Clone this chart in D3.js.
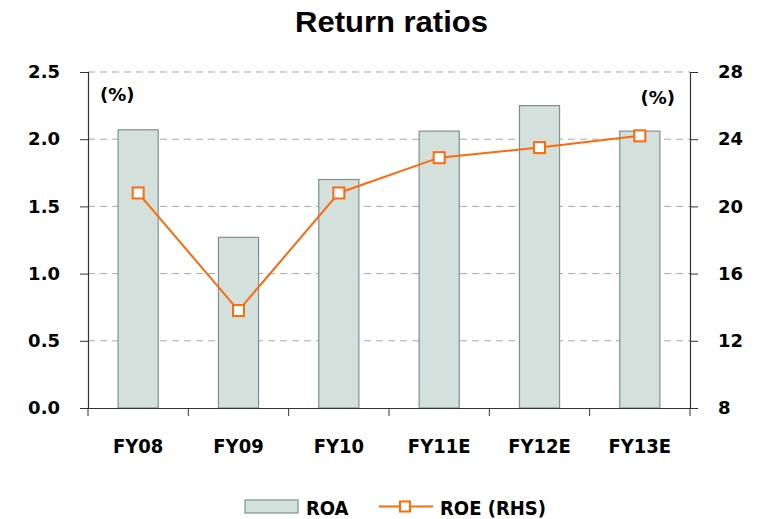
<!DOCTYPE html>
<html>
<head>
<meta charset="utf-8">
<script src="https://cdn.jsdelivr.net/npm/d3@7"></script>
<style>
  body { margin: 0; background: #fff; }
  text { font-family: "DejaVu Sans", sans-serif; font-weight: bold; fill: #000; }
  .cond { font-family: "DejaVu Sans Condensed", "DejaVu Sans", sans-serif; font-stretch: condensed; }
</style>
</head>
<body>
<div id="chart"></div>
<script>
// data
const years = ["FY08", "FY09", "FY10", "FY11E", "FY12E", "FY13E"]
const roa = [2.07, 1.27, 1.70, 2.06, 2.25, 2.06]
const roe = [20.8, 13.8, 20.8, 22.9, 23.5, 24.2]
const leftTicks = [0, 0.5, 1.0, 1.5, 2.0, 2.5]
const rightTicks = [8, 12, 16, 20, 24, 28]

const W = 762, H = 519
const margin = { top: 72, right: 72, bottom: 111, left: 88 }
const width = W - margin.left - margin.right
const height = H - margin.top - margin.bottom

const orange = "#fb6a0c"
const barFill = "#d3e0db"
const barStroke = "#7f8f92"

const svg = d3.select("#chart").append("svg")
    .attr("width", W)
    .attr("height", H)

const g = svg.append("g")
    .attr("transform", "translate(" + margin.left + "," + margin.top + ")")

// scales
const x = d3.scaleBand().domain(years).range([0, width]).paddingInner(0.6).paddingOuter(0.3)
const xc = d3.scaleBand().domain(years).range([0, width])
const yL = d3.scaleLinear().domain([0, 2.5]).range([height, 0])
const yR = d3.scaleLinear().domain([8, 28]).range([height, 0])

// gridlines
g.append("g")
    .selectAll("line")
    .data(leftTicks.slice(1))
    .join("line")
    .attr("x1", 0).attr("x2", width)
    .attr("y1", d => yL(d)).attr("y2", d => yL(d))
    .attr("stroke", "#a8a8a8")
    .attr("stroke-width", 1)
    .attr("stroke-dasharray", "7,5")

// bars
g.append("g")
    .selectAll("rect")
    .data(roa)
    .join("rect")
    .attr("x", (d, i) => x(years[i]))
    .attr("y", d => yL(d))
    .attr("width", x.bandwidth())
    .attr("height", d => height - yL(d))
    .attr("fill", barFill)
    .attr("stroke", barStroke)
    .attr("stroke-width", 1.2)

// left axis
const axL = g.append("g")
    .call(d3.axisLeft(yL).tickValues(leftTicks).tickFormat(d3.format(".1f")).tickSize(8).tickPadding(20))
axL.selectAll("text").style("font-size", "18px").attr("font-family", null)

// right axis
const axR = g.append("g")
    .attr("transform", "translate(" + width + ",0)")
    .call(d3.axisRight(yR).tickValues(rightTicks).tickSize(8).tickPadding(20))
axR.selectAll("text").style("font-size", "18px")

// x axis
const axX = g.append("g")
    .attr("transform", "translate(0," + height + ")")
    .call(d3.axisBottom(xc).tickSize(0).tickPadding(31))
axX.selectAll("text").attr("class", "cond").style("font-size", "20px")
axX.append("g")
    .selectAll("line")
    .data(d3.range(years.length + 1))
    .join("line")
    .attr("x1", i => i * xc.step()).attr("x2", i => i * xc.step())
    .attr("y1", 0).attr("y2", 8)
    .attr("stroke", "#333")

g.selectAll(".domain").attr("stroke", "#333").attr("stroke-width", 1.2)
g.selectAll(".tick line").attr("stroke", "#333")
svg.selectAll(".tick text").attr("font-family", null).attr("font-size", null)

// ROE line
const line = d3.line()
    .x((d, i) => xc(years[i]) + xc.bandwidth() / 2)
    .y(d => yR(d))

g.append("path")
    .datum(roe)
    .attr("d", line)
    .attr("fill", "none")
    .attr("stroke", orange)
    .attr("stroke-width", 2)

g.append("g")
    .selectAll("rect")
    .data(roe)
    .join("rect")
    .attr("x", (d, i) => xc(years[i]) + xc.bandwidth() / 2 - 5.5)
    .attr("y", d => yR(d) - 5.5)
    .attr("width", 11).attr("height", 11)
    .attr("fill", "#fff")
    .attr("stroke", orange)
    .attr("stroke-width", 2)

// unit labels
g.append("text").attr("x", 12).attr("y", 29).text("(%)")
    .style("font-size", "18px")
g.append("text").attr("x", width - 15).attr("y", 32).attr("text-anchor", "end").text("(%)")
    .style("font-size", "18px")

// title
svg.append("text")
    .attr("x", 295).attr("y", 32)
    .attr("textLength", 193)
    .attr("lengthAdjust", "spacingAndGlyphs")
    .style("font-family", "'Liberation Sans', Arial, sans-serif")
    .style("font-size", "29px")
    .text("Return ratios")

// legend
const leg = svg.append("g")
leg.append("rect")
    .attr("x", 245).attr("y", 500).attr("width", 53).attr("height", 13)
    .attr("fill", barFill).attr("stroke", barStroke).attr("stroke-width", 1.2)
leg.append("text").attr("class", "cond").attr("x", 306).attr("y", 515).text("ROA")
    .style("font-size", "20px")
leg.append("line")
    .attr("x1", 379).attr("x2", 433).attr("y1", 506.5).attr("y2", 506.5)
    .attr("stroke", orange).attr("stroke-width", 2)
leg.append("rect")
    .attr("x", 400).attr("y", 501.5).attr("width", 10).attr("height", 10)
    .attr("fill", "#fff").attr("stroke", orange).attr("stroke-width", 2)
leg.append("text").attr("class", "cond").attr("x", 440).attr("y", 515).text("ROE (RHS)")
    .style("font-size", "20px")
</script>
</body>
</html>
